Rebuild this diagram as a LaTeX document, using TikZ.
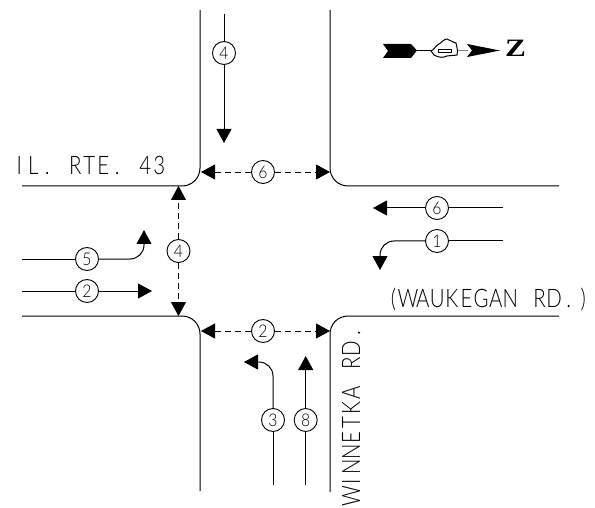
\documentclass[tikz,border=0pt]{standalone}
\usepackage{fontspec}
\setmainfont{Lato Light}[FakeStretch=0.8]
\newfontfamily\digitfont{Lato Light}[FakeStretch=0.9]
\newfontfamily\zfont{Liberation Serif}[FakeStretch=1.25]
\usetikzlibrary{arrows.meta}
\newdimen\cadpitch
\def\cadloop#1{\ifx#1\relax\else\makebox[\cadpitch]{#1}\expandafter\cadloop\fi}
\newcommand\cadtext[2]{\cadpitch=#1\relax\cadloop#2\relax}
\tikzset{
  x=1pt,y=-1pt,
  road/.style={line width=1pt,rounded corners=18pt},
  move/.style={line width=1pt,-{Triangle[length=14pt,width=15pt]}},
  turn/.style={line width=1pt,rounded corners=14pt,-{Triangle[length=14pt,width=15pt]}},
  plain/.style={line width=1pt},
  ped/.style={line width=0.8pt,dash pattern=on 6pt off 4pt,-{Triangle[length=14pt,width=15pt]}},
  phase/.style={circle,draw,line width=0.9pt,fill=white,minimum size=23pt,inner sep=0pt,font=\digitfont\fontsize{17.5}{17.5}\selectfont},
  label/.style={inner sep=0pt,font=\fontsize{25.5}{25.5}\selectfont}
}
\begin{document}
\begin{tikzpicture}
\useasboundingbox (0,0) rectangle (595,508);
% road edges
\coordinate (tlA) at (200,10); \coordinate (tlB) at (200,186); \coordinate (tlC) at (22,186);
\coordinate (blA) at (22,316); \coordinate (blB) at (200,316); \coordinate (blC) at (200,491);
\coordinate (trA) at (330,10); \coordinate (trB) at (330,186); \coordinate (trC) at (559,186);
\coordinate (brA) at (559,316); \coordinate (brB) at (330,316); \coordinate (brC) at (330,492);
\draw[road] (tlA) -- (tlB) -- (tlC);
\draw[road] (blA) -- (blB) -- (blC);
\draw[road] (trA) -- (trB) -- (trC);
\draw[road] (brA) -- (brB) -- (brC);
% phase circles
\node[phase] (n4) at (224,53) {4};
\node[phase] (w6) at (263,172) {6};
\node[phase] (e4) at (178.5,251) {4};
\node[phase] (p5) at (87,259) {5};
\node[phase] (p2) at (87,291) {2};
\node[phase] (s2) at (263,331) {2};
\node[phase] (p3) at (273,420) {3};
\node[phase] (p8) at (305.7,420) {8};
\node[phase] (q6) at (437,208) {6};
\node[phase] (p1) at (437,241) {1};
% vehicle moves
\coordinate (n4s) at (224,14); \coordinate (n4e) at (224,143);
\draw[plain] (n4s) -- (n4); \draw[move] (n4) -- (n4e);
\coordinate (p5s) at (22,259); \coordinate (p5k) at (144,259); \coordinate (p5e) at (144,230);
\draw[plain] (p5s) -- (p5); \draw[turn] (p5) -- (p5k) -- (p5e);
\coordinate (p2s) at (22,291); \coordinate (p2e) at (152,291);
\draw[plain] (p2s) -- (p2); \draw[move] (p2) -- (p2e);
\coordinate (p3s) at (273,485); \coordinate (p3k) at (273,362); \coordinate (p3e) at (244,362);
\draw[plain] (p3s) -- (p3); \draw[turn] (p3) -- (p3k) -- (p3e);
\coordinate (p8s) at (305.7,485); \coordinate (p8e) at (305.7,356);
\draw[plain] (p8s) -- (p8); \draw[move] (p8) -- (p8e);
\coordinate (q6s) at (503,208); \coordinate (q6e) at (373,208);
\draw[plain] (q6s) -- (q6); \draw[move] (q6) -- (q6e);
\coordinate (p1s) at (503,241); \coordinate (p1k) at (380,241); \coordinate (p1e) at (380,270);
\draw[plain] (p1s) -- (p1); \draw[turn] (p1) -- (p1k) -- (p1e);
% pedestrian crossings
\coordinate (w6a) at (201,172); \coordinate (w6b) at (330,172);
\draw[ped] (w6) -- (w6a); \draw[ped] (w6) -- (w6b);
\coordinate (e4a) at (178.5,186); \coordinate (e4b) at (178.5,316);
\draw[ped] (e4) -- (e4a); \draw[ped] (e4) -- (e4b);
\coordinate (s2a) at (201,331); \coordinate (s2b) at (330,331);
\draw[ped] (s2) -- (s2a); \draw[ped] (s2) -- (s2b);
% labels
\node[label,anchor=base west] (lIL) at (12,175) {\cadtext{14pt}{IL.~RTE.~43}};
\node[label,anchor=base west] (lWK) at (386,307) {\cadtext{14.6pt}{(WAUKEGAN~RD.)}};
\node[label,anchor=base west,rotate=90] (lWN) at (360,504) {\cadtext{14.8pt}{WINNETKA~RD.}};
% north arrow
\fill (383,44) -- (411,44) -- (417,50.5) -- (411,58) -- (383,58) -- (388,51) -- cycle;
\draw[line width=1pt] (417,50.5) -- (431,50.5);
\draw[line width=1pt,fill=white] (431,51) .. controls (434,50) and (436,45) .. (439,44) .. controls (441,43) and (444,39) .. (447,39) .. controls (450,40) and (452,42) .. (456,43) .. controls (457,47) and (458,52) .. (457,55) .. controls (452,56) and (448,55) .. (444,57) .. controls (440,58) and (436,56) .. (434,55) -- cycle;
\draw[line width=0.9pt] (438,49) rectangle (451,52);
\draw[line width=1pt,gray] (458,50.5) -- (468,50.5);
\fill (467,44) -- (500,50.5) -- (467,57) -- (472,50.5) -- cycle;
\node[inner sep=0pt,anchor=base,font=\zfont\bfseries\fontsize{25}{25}\selectfont] (zN) at (515.5,57) {Z};
\end{tikzpicture}
\end{document}
